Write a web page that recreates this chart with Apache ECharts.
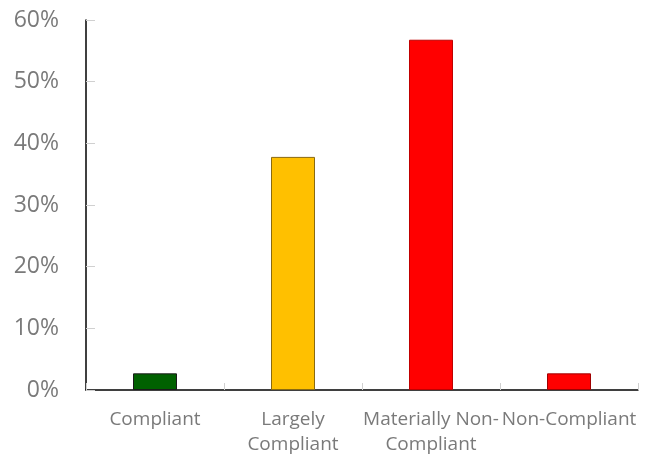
<!DOCTYPE html>
<html lang="en">
<head>
    <meta charset="UTF-8">
    <title>Compliance</title>
    <script src="https://cdn.jsdelivr.net/npm/echarts@6/dist/echarts.min.js"></script>
</head>
<style>
    *{
        margin: 0;
        padding: 0;
    }
    html,body{
        width: 100%;
        height: 100%;
        overflow: hidden;
        background: #fff;
    }
    .container{
        width: 649px;
        height: 458px;
    }
</style>
<body>
<div class="container"></div>
<script>
    // data
    let categories = ['Compliant', 'Largely\nCompliant', 'Materially Non-\nCompliant', 'Non-Compliant'];
    let values = [2.7, 37.8, 56.8, 2.7];
    let barColors = ['#006100', '#FFC000', '#FF0000', '#FF0000'];
    let borderColors = ['#1a1a1a', '#8a6a10', '#c00000', '#a00000'];

    let container = document.querySelector('.container');
    let mycharts = echarts.init(container);

    let options = {
        animation: false,
        grid: {
            left: 86,
            right: 11,
            top: 20,
            bottom: 68
        },
        xAxis: {
            type: 'category',
            data: categories,
            axisLine: {lineStyle: {color: '#000', width: 1.5}},
            axisTick: {
                show: true,
                inside: true,
                length: 7,
                alignWithLabel: false,
                lineStyle: {color: '#d0d0d0'}
            },
            axisLabel: {
                interval: 0,
                margin: 17,
                color: '#7a7a7a',
                fontSize: 19,
                lineHeight: 25,
                fontFamily: 'Open Sans'
            }
        },
        yAxis: {
            type: 'value',
            min: 0,
            max: 60,
            interval: 10,
            splitLine: {show: false},
            axisLine: {show: true, lineStyle: {color: '#000', width: 1.5}},
            axisTick: {
                show: true,
                inside: true,
                length: 9,
                lineStyle: {color: '#d0d0d0'}
            },
            axisLabel: {
                margin: 27,
                color: '#7a7a7a',
                fontSize: 23,
                fontFamily: 'Open Sans',
                formatter: '{value}%'
            }
        },
        series: [{
            type: 'bar',
            barWidth: 44,
            data: values.map((v, i) => ({
                value: v,
                itemStyle: {color: barColors[i], borderColor: borderColors[i], borderWidth: 1}
            }))
        }]
    };
    mycharts.setOption(options);
</script>
</body>
</html>
